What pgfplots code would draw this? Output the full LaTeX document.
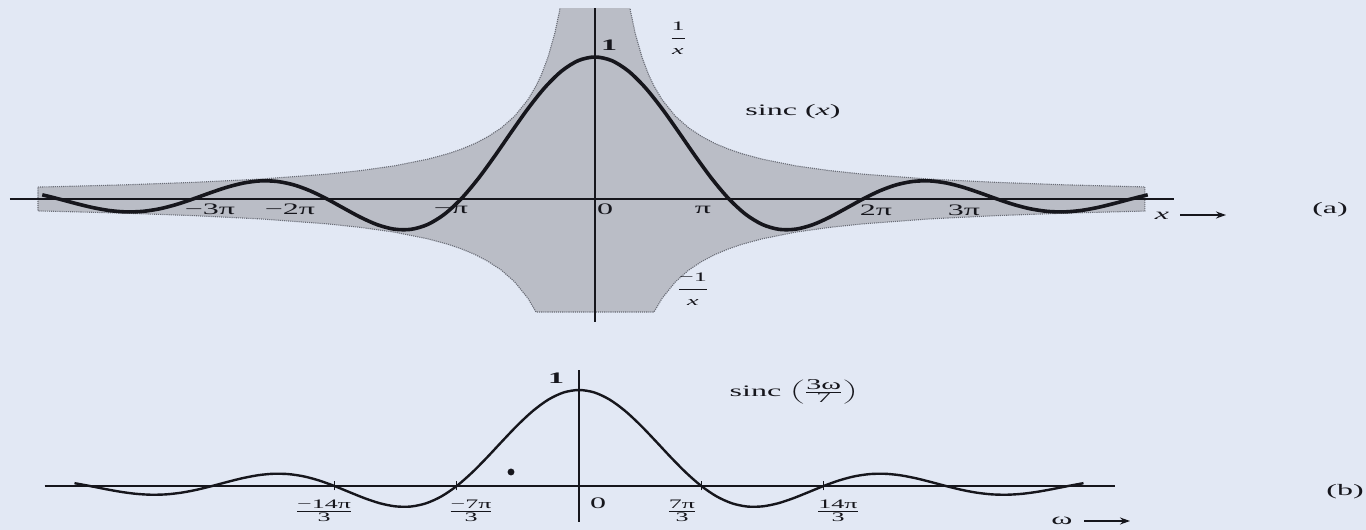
\documentclass[border=0pt]{standalone}
\usepackage{pgfplots}
\pgfplotsset{compat=1.18}
\usepackage{pgfplotstable}
\usepackage{graphicx}
\usepackage{fontspec}
\setmainfont{Liberation Serif}
\usetikzlibrary{arrows.meta}

\definecolor{paper}{RGB}{226,232,244}
\definecolor{shade}{RGB}{186,189,198}
\definecolor{shadeedge}{RGB}{105,108,118}
\definecolor{ink}{RGB}{22,22,28}

% the printed labels are set wide, about twice as wide as they are tall
\newcommand{\wide}[1]{\scalebox{2}[1]{#1}}
\newcommand{\lbl}{\fontsize{16}{18}\selectfont}
\newcommand{\sml}{\fontsize{13}{14}\selectfont}
\newcommand{\medsz}{\fontsize{15}{16}\selectfont}

% sinc(t*pi) = sin(pi t)/(pi t), sampled every pi/8
\pgfplotstableread{
t y
-4.125 0.02953
-4.000 0
-3.875 -0.03144
-3.750 -0.06002
-3.625 -0.08113
-3.500 -0.09095
-3.375 -0.08713
-3.250 -0.06926
-3.125 -0.03898
-3.000 0
-2.875 0.04237
-2.750 0.08185
-2.625 0.11203
-2.500 0.12732
-2.375 0.12382
-2.250 0.10004
-2.125 0.05732
-2.000 0
-1.875 -0.06497
-1.750 -0.12862
-1.625 -0.18097
-1.500 -0.21221
-1.375 -0.21388
-1.250 -0.18006
-1.125 -0.10828
-1.000 0
-0.875 0.13921
-0.750 0.30011
-0.625 0.47053
-0.500 0.63662
-0.375 0.78421
-0.250 0.90032
-0.125 0.97450
0.000 1
0.125 0.97450
0.250 0.90032
0.375 0.78421
0.500 0.63662
0.625 0.47053
0.750 0.30011
0.875 0.13921
1.000 0
1.125 -0.10828
1.250 -0.18006
1.375 -0.21388
1.500 -0.21221
1.625 -0.18097
1.750 -0.12862
1.875 -0.06497
2.000 0
2.125 0.05732
2.250 0.10004
2.375 0.12382
2.500 0.12732
2.625 0.11203
2.750 0.08185
2.875 0.04237
3.000 0
3.125 -0.03898
3.250 -0.06926
3.375 -0.08713
3.500 -0.09095
3.625 -0.08113
3.750 -0.06002
3.875 -0.03144
4.000 0
4.125 0.02953
}\sincdata

% band between the envelopes 1/x and -1/x, cut off near the origin
\pgfplotstableread{
t y
-4.157 0.084
-4.000 0.0875
-3.500 0.100
-3.000 0.117
-2.500 0.140
-2.000 0.175
-1.750 0.200
-1.500 0.233
-1.250 0.280
-1.100 0.318
-1.000 0.350
-0.900 0.389
-0.800 0.438
-0.700 0.500
-0.600 0.583
-0.500 0.700
-0.440 0.796
-0.400 0.875
-0.350 1.000
-0.300 1.167
-0.263 1.331
-0.263 1.450
0.263 1.450
0.263 1.331
0.300 1.167
0.350 1.000
0.400 0.875
0.440 0.796
0.500 0.700
0.600 0.583
0.700 0.500
0.800 0.438
0.900 0.389
1.000 0.350
1.100 0.318
1.250 0.280
1.500 0.233
1.750 0.200
2.000 0.175
2.500 0.140
3.000 0.117
3.500 0.100
4.000 0.0875
4.104 0.085
4.104 -0.085
4.000 -0.0875
3.500 -0.100
3.000 -0.117
2.500 -0.140
2.000 -0.175
1.750 -0.200
1.500 -0.233
1.250 -0.280
1.100 -0.318
1.000 -0.350
0.900 -0.389
0.800 -0.438
0.700 -0.500
0.600 -0.583
0.500 -0.700
0.440 -0.796
-0.440 -0.796
-0.500 -0.700
-0.600 -0.583
-0.700 -0.500
-0.800 -0.438
-0.900 -0.389
-1.000 -0.350
-1.100 -0.318
-1.250 -0.280
-1.500 -0.233
-1.750 -0.200
-2.000 -0.175
-2.500 -0.140
-3.000 -0.117
-3.500 -0.100
-4.000 -0.0875
-4.157 -0.084
}\envband

\pgfplotsset{
  plain axis/.style={
    axis lines=middle,
    axis on top,
    axis line style={-, line width=2pt, color=ink},
    every inner x axis line/.append style={-},
    every inner y axis line/.append style={-},
    ytick=\empty,
    clip=true,
  },
}

\begin{document}
\begin{tikzpicture}[x=1pt,y=1pt, lab/.style={inner sep=0pt, font=\lbl, text=ink}]
\fill[paper] (0,0) rectangle (1366,530);
\useasboundingbox (0,0) rectangle (1366,530);

% (a): sinc(x) inside the band bounded by 1/x and -1/x
\begin{axis}[plain axis,
  at={(595pt,331pt)}, anchor=origin,
  x=134pt, y=142pt,
  xmin=-4.366, xmax=4.321, ymin=-0.866, ymax=1.345,
  xtick=\empty]
  \addplot[fill=shade, draw=shadeedge, densely dotted, line width=1.1pt]
    table[x=t, y=y] {\envband} -- cycle;
  \addplot[smooth, ink, line width=3.6pt] table[x=t, y=y] {\sincdata};
\end{axis}

% (b): sinc(3w/7), zeros at multiples of 7pi/3
\begin{axis}[plain axis,
  at={(579pt,44pt)}, anchor=origin,
  x=122.3pt, y=96pt,
  xmin=-4.37, xmax=4.38, ymin=-0.375, ymax=1.208,
  xtick={-2,-1,1,2}, xticklabels={,,,},
  tick align=center, major tick length=9pt,
  tick style={line width=1.2pt, ink}]
  \addplot[smooth, ink, line width=2.4pt] table[x=t, y=y] {\sincdata};
  \addplot[only marks, mark=*, mark size=3.2pt, ink] coordinates {(-0.556,0.146)};
\end{axis}

% labels of (a)
\node[lab] at (210,321) {\wide{−3π}};
\node[lab] at (290,321) {\wide{−2π}};
\node[lab] at (451,320) {\wide{−π}};
\node[lab] at (605,321) {\wide{0}};
\node[lab] at (703,320) {\wide{π}};
\node[lab] at (876,320) {\wide{2π}};
\node[lab] at (964,320) {\wide{3π}};
\node[lab] at (609,485) {\wide{\bfseries 1}};
\node[lab] at (678,492) {\wide{$\displaystyle\frac{\mbox{\sml 1}}{\mbox{\sml\itshape x}}$}};
\node[lab] at (793,418) {\wide{sinc (\textit{x})}};
\node[lab] at (693,241) {\wide{$\displaystyle\frac{\mbox{\sml −1}}{\mbox{\sml\itshape x}}$}};
\node[lab] at (1162,314) {\wide{\itshape x}};
\draw[-{Stealth[length=10pt,width=7pt]}, line width=1.6pt, ink] (1180,315) -- (1226,315);
\node[lab] at (1330,320) {\wide{(a)}};

% labels of (b)
\node[lab] at (556,152) {\wide{\bfseries 1}};
\node[lab] at (598,27) {\wide{0}};
\node[lab] at (324,19) {\wide{$\frac{\mbox{\sml −14π}}{\mbox{\sml 3}}$}};
\node[lab] at (471,19) {\wide{$\frac{\mbox{\sml −7π}}{\mbox{\sml 3}}$}};
\node[lab] at (682,19) {\wide{$\frac{\mbox{\sml 7π}}{\mbox{\sml 3}}$}};
\node[lab] at (838,19) {\wide{$\frac{\mbox{\sml 14π}}{\mbox{\sml 3}}$}};
\node[lab] at (794,138) {\wide{sinc $\left(\frac{\mbox{\medsz 3ω}}{\mbox{\medsz 7}}\right)$}};
\node[lab] at (1062,9) {\wide{ω}};
\draw[-{Stealth[length=10pt,width=7pt]}, line width=1.6pt, ink] (1084,9) -- (1130,9);
\node[lab] at (1345,38) {\wide{(b)}};
\end{tikzpicture}
\end{document}
